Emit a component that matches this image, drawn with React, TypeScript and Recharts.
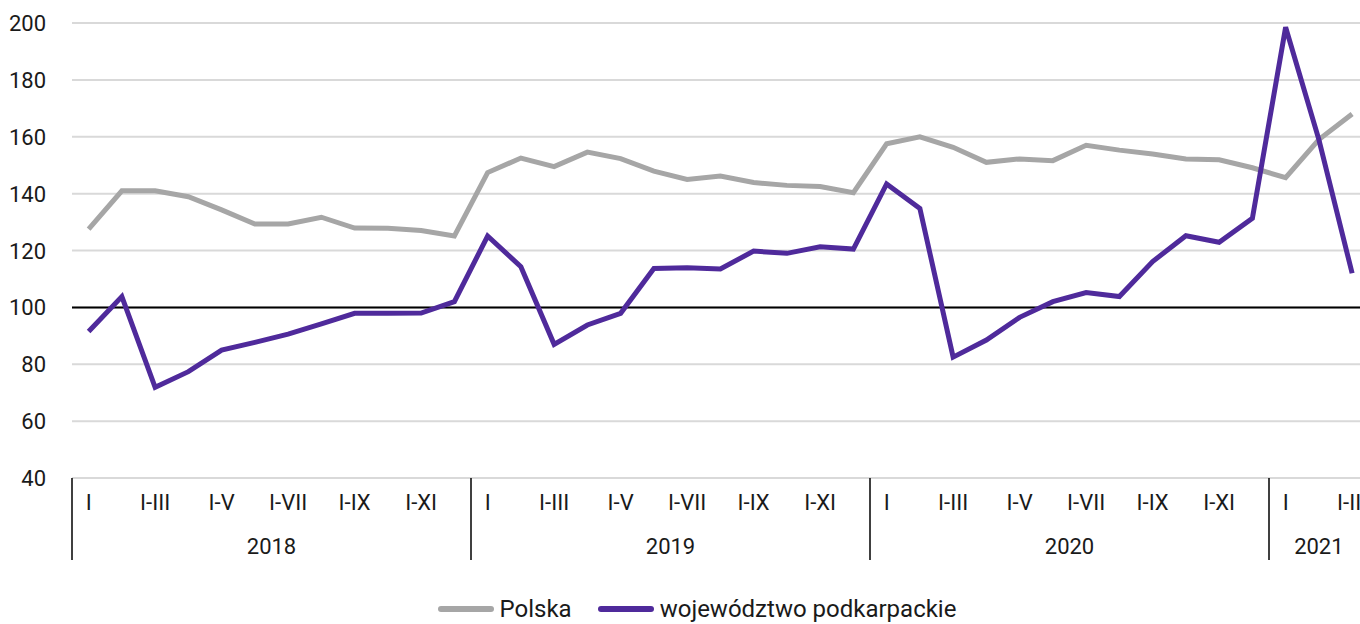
import { LineChart, Line, XAxis, YAxis, CartesianGrid, ReferenceLine, Legend } from "recharts";

// period labels (cumulative months) per year
const months = ["I", "I-II", "I-III", "I-IV", "I-V", "I-VI", "I-VII", "I-VIII", "I-IX", "I-X", "I-XI", "I-XII"];
const years = [2018, 2019, 2020, 2021];
const monthsPerYear = [12, 12, 12, 3];

const polska = [
  127.5, 141, 141, 138.9, 134.3, 129.3, 129.3, 131.7, 127.9, 127.8, 127, 125.1,
  147.4, 152.5, 149.5, 154.6, 152.3, 147.9, 145, 146.2, 143.9, 142.9, 142.5, 140.3,
  157.5, 160, 156.3, 151, 152.2, 151.6, 157, 155.3, 153.9, 152.2, 151.9, 149.1,
  145.6, 159, 168,
];
const podkarpackie = [
  91.5, 103.8, 71.9, 77.4, 85, 87.7, 90.6, 94.2, 97.9, 97.9, 98, 102,
  125.1, 114.3, 87, 93.8, 97.9, 113.7, 113.9, 113.5, 119.8, 119, 121.3, 120.5,
  143.4, 134.8, 82.5, 88.5, 96.5, 102, 105.2, 103.8, 116.1, 125.2, 122.9, 131.3,
  198.5, 159, 112,
];
const yTicks = [40, 60, 80, 100, 120, 140, 160, 180, 200];

const GREY = "#a6a6a6";
const PURPLE = "#4f2a9b";
const FONT = "Roboto, 'Noto Sans', sans-serif";

const periods: { year: number; month: number; key: string }[] = [];
years.forEach((year, yi) => {
  for (let m = 0; m < monthsPerYear[yi]; m++) {
    periods.push({ year, month: m, key: `${year}-${months[m]}` });
  }
});

const chartData = periods.map((p, i) => ({
  key: p.key,
  polska: polska[i],
  podkarpackie: podkarpackie[i],
}));

// layout
const PLOT_LEFT = 72;
const PLOT_TOP = 23;
const PLOT_BOTTOM = 478;
const BAND = 33.25;
const PLOT_W = BAND * chartData.length;
const CHART_W = PLOT_LEFT + PLOT_W + 4;
const CHART_H = 624;
const LEGEND_H = 30;

function MonthTick(props: any) {
  const { x, payload } = props;
  const p = periods[payload.index];
  if (!p) return null;
  const els: any[] = [];
  if (p.month % 2 === 0) {
    els.push(
      <text key="m" x={x} y={PLOT_BOTTOM + 32} textAnchor="middle" fontSize={22} fill="#1a1a1a" fontFamily={FONT}>
        {months[p.month]}
      </text>
    );
  }
  if (p.month === 0) {
    const yi = years.indexOf(p.year);
    const left = x - BAND / 2;
    const mid = left + (monthsPerYear[yi] * BAND) / 2;
    els.push(<line key="s" x1={left} x2={left} y1={PLOT_BOTTOM} y2={PLOT_BOTTOM + 82} stroke="#000" strokeWidth={1.5} />);
    els.push(
      <text key="y" x={mid} y={PLOT_BOTTOM + 76} textAnchor="middle" fontSize={22} fill="#1a1a1a" fontFamily={FONT}>
        {p.year}
      </text>
    );
  }
  return <g>{els}</g>;
}

function ValueTick(props: any) {
  const { y, payload } = props;
  return (
    <text x={46} y={y + 8} textAnchor="end" fontSize={22} fill="#1a1a1a" fontFamily={FONT}>
      {payload.value}
    </text>
  );
}

function LegendContent() {
  const items = [
    { label: "Polska", color: GREY },
    { label: "województwo podkarpackie", color: PURPLE },
  ];
  return (
    <div style={{ display: "flex", justifyContent: "center", alignItems: "center", height: LEGEND_H, width: 1360, paddingLeft: 34, boxSizing: "border-box", fontFamily: FONT, fontSize: 24, color: "#1a1a1a" }}>
      {items.map((it, i) => (
        <div key={it.label} style={{ display: "flex", alignItems: "center", marginRight: i === 0 ? 26 : 0 }}>
          <span style={{ display: "inline-block", width: 56, height: 6, borderRadius: 3, background: it.color, marginRight: 6 }} />
          <span>{it.label}</span>
        </div>
      ))}
    </div>
  );
}

export default function App() {
  return (
    <div style={{ position: "absolute", left: 0, top: 0, width: 1360, height: CHART_H, overflow: "hidden", background: "#fff" }}>
      <LineChart
        width={CHART_W}
        height={CHART_H}
        data={chartData}
        margin={{ top: PLOT_TOP, left: 0, right: CHART_W - PLOT_LEFT - PLOT_W, bottom: 0 }}
      >
        <CartesianGrid vertical={false} stroke="#d9d9d9" strokeWidth={2} />
        <XAxis
          dataKey="key"
          interval={0}
          axisLine={false}
          tickLine={false}
          height={CHART_H - PLOT_BOTTOM - LEGEND_H}
          padding={{ left: BAND / 2, right: BAND / 2 }}
          tick={<MonthTick />}
        />
        <YAxis
          domain={[40, 200]}
          ticks={yTicks}
          width={PLOT_LEFT}
          axisLine={false}
          tickLine={false}
          tick={<ValueTick />}
        />
        <ReferenceLine y={100} stroke="#000" strokeWidth={2} />
        <Legend verticalAlign="bottom" height={LEGEND_H} content={<LegendContent />} />
        <Line type="linear" dataKey="polska" name="Polska" stroke={GREY} strokeWidth={5} dot={false} isAnimationActive={false} />
        <Line type="linear" dataKey="podkarpackie" name="województwo podkarpackie" stroke={PURPLE} strokeWidth={5} dot={false} isAnimationActive={false} />
      </LineChart>
    </div>
  );
}
